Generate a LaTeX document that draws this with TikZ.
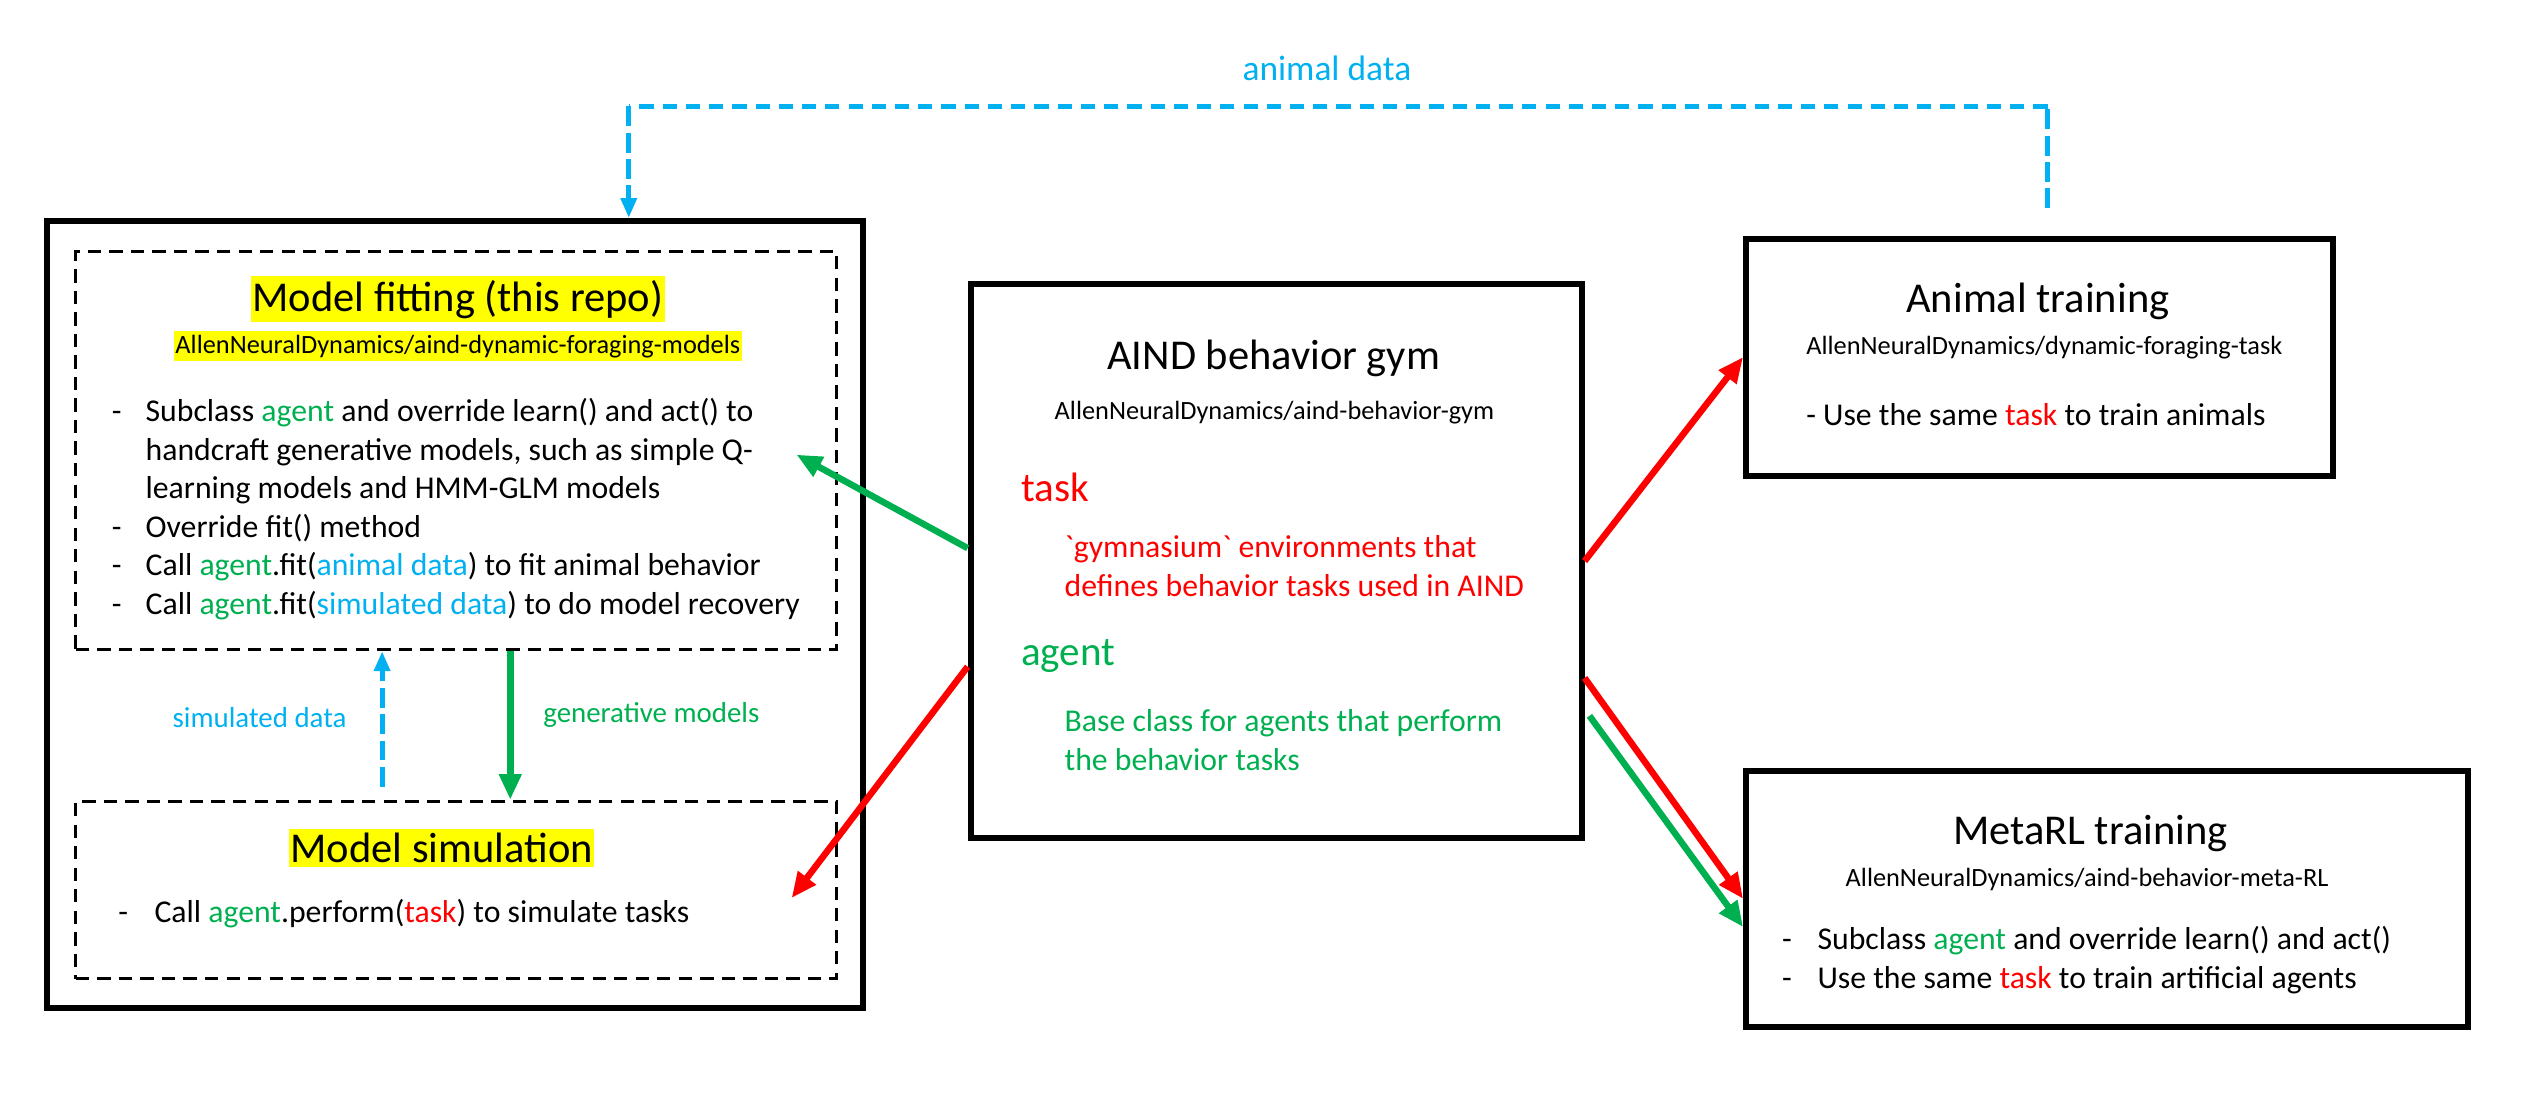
\documentclass[tikz,border=0pt]{standalone}
\usepackage{fontspec}
\setmainfont{Carlito}[Ligatures=TeXOff]
\usepackage{tikz}
\usetikzlibrary{arrows.meta, positioning, calc}

\definecolor{pptgreen}{HTML}{00B050}
\definecolor{pptblue}{HTML}{00B0F0}
\definecolor{pptred}{HTML}{FF0000}
\definecolor{pptyellow}{HTML}{FFFF00}

\newcommand{\gtxt}[1]{\textcolor{pptgreen}{#1}}
\newcommand{\rtxt}[1]{\textcolor{pptred}{#1}}
\newcommand{\btxt}[1]{\textcolor{pptblue}{#1}}

\tikzset{
  framebox/.style={
    rectangle, draw=black, line width=2.1pt, inner sep=0pt
  },
  dashbox/.style={
    rectangle, draw=black, line width=1.1pt,
    dash pattern=on 4.7pt off 2.9pt, inner sep=0pt
  },
  titletext/.style={
    font=\fontsize{15}{18}\selectfont, anchor=base, inner sep=0pt
  },
  repotext/.style={
    font=\fontsize{9.3}{11}\selectfont, anchor=base, inner sep=0pt
  },
  headtext/.style={
    font=\fontsize{14.5}{17}\selectfont, anchor=base west,
    inner sep=0pt, text=#1
  },
  bodytext/.style={
    font=\fontsize{11.2}{13.6}\selectfont, anchor=base west, inner sep=0pt
  },
  labeltext/.style={
    font=\fontsize{10.2}{12}\selectfont, anchor=base, inner sep=0pt, text=#1
  },
  marktext/.style={fill=pptyellow, inner xsep=0.5pt, inner ysep=1.3pt},
  flowarrow/.style={-{Triangle[length=9pt, width=7.5pt]}, line width=2.3pt, color=#1},
  dataline/.style={
    line width=1.7pt, color=pptblue, dash pattern=on 7pt off 2.3pt
  },
  dataarrow/.style={dataline, -{Triangle[length=7pt, width=5.5pt]}},
}

\begin{document}
\begin{tikzpicture}
  \useasboundingbox (0,0) rectangle (31.36,13.88);

  % boxes
  \node[framebox, minimum width=10.12cm, minimum height=9.76cm] (fitouter) at (5.64,6.26) {};
  \node[dashbox, minimum width=9.44cm, minimum height=4.94cm] (fitbox) at (5.66,8.29) {};
  \node[dashbox, minimum width=9.44cm, minimum height=2.20cm] (simbox) at (5.66,2.84) {};
  \node[framebox, minimum width=7.58cm, minimum height=6.88cm] (gym) at (15.83,6.92) {};
  \node[framebox, minimum width=7.28cm, minimum height=2.94cm] (animal) at (25.30,9.45) {};
  \node[framebox, minimum width=8.96cm, minimum height=3.18cm] (metarl) at (26.14,2.73) {};

  % model fitting
  \node[titletext, marktext] (fittitle) at (5.68,10.02) {Model fitting (this repo)};
  \node[repotext, marktext] (fitrepo) at (5.68,9.50) {AllenNeuralDynamics/aind-dynamic-foraging-models};
  \node[bodytext] (fitlist) at (1.38,8.65) {\begin{tabular}[t]{@{}p{0.42cm}@{}l@{}}
    - & Subclass \gtxt{agent} and override learn() and act() to\\
      & handcraft generative models, such as simple Q-\\
      & learning models and HMM-GLM models\\
    - & Override fit() method\\
    - & Call \gtxt{agent}.fit(\btxt{animal data}) to fit animal behavior\\
    - & Call \gtxt{agent}.fit(\btxt{simulated data}) to do model recovery
  \end{tabular}};

  % model simulation
  \node[titletext, marktext] (simtitle) at (5.48,3.18) {Model simulation};
  \node[bodytext] (simlist) at (1.46,2.44) {\begin{tabular}[t]{@{}p{0.45cm}@{}l@{}}
    - & Call \gtxt{agent}.perform(\rtxt{task}) to simulate tasks
  \end{tabular}};

  \node[labeltext=pptblue] (simlabel) at (3.22,4.86) {simulated data};
  \node[labeltext=pptgreen] (genlabel) at (8.08,4.92) {generative models};

  % behavior gym
  \node[titletext] (gymtitle) at (15.80,9.30) {AIND behavior gym};
  \node[repotext] (gymrepo) at (15.81,8.68) {AllenNeuralDynamics/aind-behavior-gym};
  \node[headtext=pptred] (tasklabel) at (12.66,7.66) {task};
  \node[bodytext, text=pptred] (taskdesc) at (13.20,6.96) {\begin{tabular}[t]{@{}l@{}}
    `gymnasium` environments that\\
    defines behavior tasks used in AIND
  \end{tabular}};
  \node[headtext=pptgreen] (agentlabel) at (12.66,5.62) {agent};
  \node[bodytext, text=pptgreen] (agentdesc) at (13.20,4.80) {\begin{tabular}[t]{@{}l@{}}
    Base class for agents that perform\\
    the behavior tasks
  \end{tabular}};

  % animal training
  \node[titletext] (animaltitle) at (25.28,10.00) {Animal training};
  \node[repotext] (animalrepo) at (25.36,9.48) {AllenNeuralDynamics/dynamic-foraging-task};
  \node[bodytext] (animallist) at (22.40,8.60) {- Use the same \rtxt{task} to train animals};

  % metaRL training
  \node[titletext] (metatitle) at (25.93,3.40) {MetaRL training};
  \node[repotext] (metarepo) at (25.89,2.88) {AllenNeuralDynamics/aind-behavior-meta-RL};
  \node[bodytext] (metalist) at (22.10,2.10) {\begin{tabular}[t]{@{}p{0.44cm}@{}l@{}}
    - & Subclass \gtxt{agent} and override learn() and act()\\
    - & Use the same \rtxt{task} to train artificial agents
  \end{tabular}};

  % animal data loop
  \coordinate (adright) at (25.40,12.56);
  \coordinate (adleft) at (7.80,12.56);
  \node[labeltext=pptblue, font=\fontsize{12.5}{15}\selectfont] (adlabel) at (16.46,12.88) {animal data};
  \draw[dataline, shorten <=0.34cm] (animal.north -| adright) -- (adright);
  \draw[dataline, dash pattern=on 5pt off 3.2pt] (adright) -- (adleft);
  \draw[dataarrow] (adleft) -- (fitouter.north -| adleft);

  % inner arrows
  \coordinate (simx) at (4.74,0);
  \coordinate (genx) at (6.33,0);
  \draw[dataarrow, shorten <=0.16cm] (simbox.north -| simx) -- (fitbox.south -| simx);
  \draw[flowarrow=pptgreen] (fitbox.south -| genx) -- (simbox.north -| genx);

  % gym arrows
  \coordinate (fitin) at (9.88,8.24);
  \coordinate (simin) at (9.82,2.74);
  \draw[flowarrow=pptgreen] ([yshift=0.16cm]gym.west) -- (fitin);
  \draw[flowarrow=pptred] ([yshift=-1.31cm]gym.west) -- (simin);
  \draw[flowarrow=pptred] (gym.east) -- (animal.west);
  \draw[flowarrow=pptred] ([yshift=-1.45cm]gym.east) -- (metarl.west);
  \draw[flowarrow=pptgreen] ([xshift=0.06cm, yshift=-1.92cm]gym.east) -- ([yshift=-0.35cm]metarl.west);
\end{tikzpicture}
\end{document}
